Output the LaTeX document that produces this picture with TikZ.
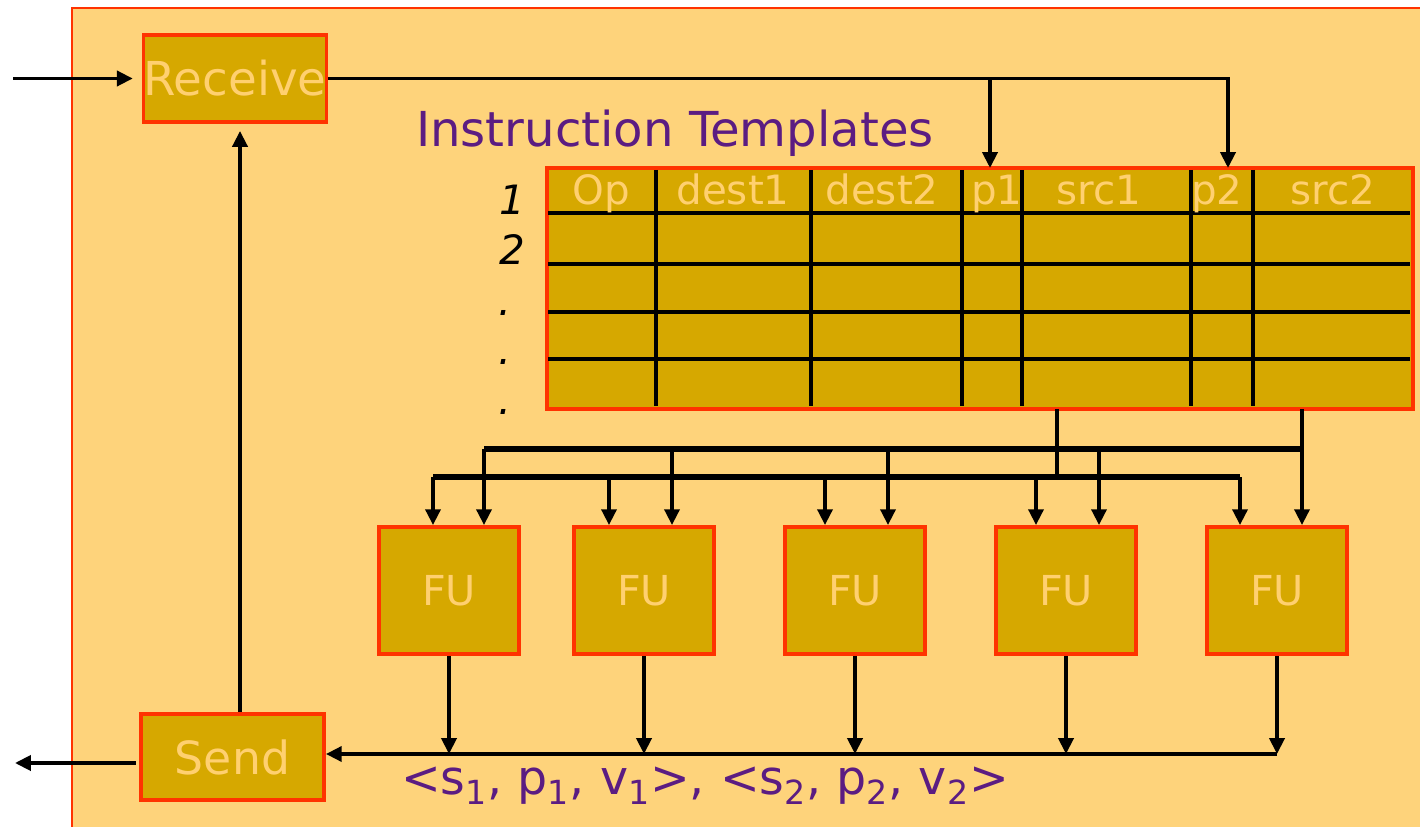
\documentclass[tikz,border=0pt]{standalone}
\usepackage{fontspec}
\setmainfont{DejaVu Sans}
\usepackage{xcolor}
\usetikzlibrary{arrows.meta}

\definecolor{slidebg}{HTML}{FED37B}
\definecolor{boxgold}{HTML}{D6A800}
\definecolor{boxred}{HTML}{FF3300}
\definecolor{lighttext}{HTML}{FFD070}
\definecolor{titlepurple}{HTML}{5B1C82}
\newcommand{\fsz}[1]{\fontsize{#1pt}{#1pt}\selectfont}

\begin{document}
\begin{tikzpicture}[x=0.02cm, y=-0.02cm,
  unit/.style={draw=boxred, fill=boxgold, line width=2.2pt, text=lighttext, inner sep=0pt},
  arr/.style={-{Triangle[length=9pt,width=8.5pt]}, line width=2.1pt},
  bus/.style={line width=3pt},
  rule/.style={line width=1.9pt},
  hdr/.style={anchor=base, text=lighttext, font=\fsz{23}},
  rowno/.style={anchor=base, font=\fsz{23}\itshape}]
  \useasboundingbox (0,0) rectangle (1420,827);
  \fill[slidebg] (72,8) rectangle (1440,850);
  \draw[boxred, line width=1pt] (1440,8) -- (72,8) -- (72,850);

  % receive / send
  \node[unit, minimum width=3.64cm, minimum height=1.74cm, font=\fsz{26.6}] (recv) at (235,78.5) {Receive};
  \node[unit, minimum width=3.66cm, minimum height=1.72cm, font=\fsz{26}] (send) at (232.5,757) {Send};
  \coordinate (inlink) at (13,78.5);
  \coordinate (outlink) at (15,763);
  \coordinate (loopx) at (240,0);
  \draw[arr, shorten >=5pt] (inlink) -- (recv.west);
  \draw[arr] ([xshift=-2pt]send.west |- outlink) -- (outlink);
  \draw[arr, shorten >=4pt] (send.north -| loopx) -- (recv.south -| loopx);

  % instruction templates
  \node[text=titlepurple, font=\fsz{27.4}] (title) at (675,133) {Instruction Templates};
  \coordinate (tnw) at (547,168);
  \coordinate (tse) at (1413,409);
  \draw[unit] (tnw) rectangle (tse);
  \foreach \y in {213,264,312,359}
    \draw[rule] (548,\y) -- (1410,\y);
  \foreach \x in {656,811,962,1022,1191,1253}
    \draw[rule] (\x,170) -- (\x,406);
  \foreach \x/\t in {601/Op,733/dest1,882/dest2,997/p1,1099/src1,1217/p2,1333/src2}
    \node[hdr] (h-\t) at (\x,205) {\t};
  \node[rowno] (r1) at (512,215) {1};
  \node[rowno] (r2) at (512,265) {2};
  \node[rowno] (r3) at (505,316) {.};
  \node[rowno] (r4) at (505,365) {.};
  \node[rowno] (r5) at (505,415) {.};

  \coordinate (p1in) at (990,168);
  \coordinate (p2in) at (1228,168);
  \draw[arr] (recv.east) -| (p2in);
  \draw[arr] (p1in |- recv.east) -- (p1in);

  % functional units
  \foreach \i/\x in {1/449,2/644,3/855,4/1066,5/1277}
    \node[unit, minimum width=2.8cm, minimum height=2.54cm, font=\fsz{23.5}] (fu\i) at (\x,590.5) {FU};

  \coordinate (src1out) at (1057,409);
  \coordinate (src2out) at (1302,409);
  \coordinate (busAl) at (433,477);
  \coordinate (busAr) at (1240,477);
  \coordinate (busBl) at (484,449);
  \coordinate (busBr) at (1302,449);
  \draw[bus] (busAl) -- (busAr);
  \draw[bus] (busBl) -- (busBr);
  \draw[line width=2.1pt] (src1out) -- (src1out |- busAl);
  \draw[arr] (src2out) -- (src2out |- fu5.north);
  \foreach \i/\a in {1/433,2/609,3/825,4/1036,5/1240} {
    \coordinate (ta\i) at (\a,477);
    \draw[arr] (ta\i) -- (ta\i |- fu\i.north);
  }
  \foreach \i/\b in {1/484,2/672,3/888,4/1099} {
    \coordinate (tb\i) at (\b,449);
    \draw[arr] (tb\i) -- (tb\i |- fu\i.north);
  }

  % results back to send
  \coordinate (busend) at (1277,754);
  \draw[arr] (busend) -- (busend -| send.east);
  \foreach \i in {1,...,5}
    \draw[arr] (fu\i.south) -- (fu\i.south |- busend);
  \node[text=titlepurple, font=\fsz{27}] (msg) at (705,786)
    {<s\textsubscript{1}, p\textsubscript{1}, v\textsubscript{1}>, <s\textsubscript{2}, p\textsubscript{2}, v\textsubscript{2}>};
\end{tikzpicture}
\end{document}
